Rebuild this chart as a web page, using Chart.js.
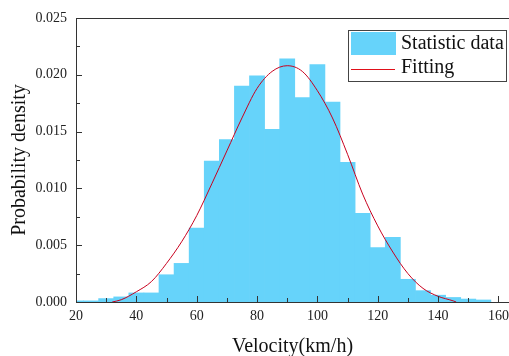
<!DOCTYPE html>
<html>
<head>
<meta charset="utf-8">
<script src="https://cdn.jsdelivr.net/npm/chart.js@4.4.1/dist/chart.umd.min.js"></script>
<style>
  html, body { margin: 0; padding: 0; background: #fff; }
  #wrap { width: 509px; height: 356px; }
</style>
</head>
<body>
<div id="wrap"><canvas id="velocityChart" width="509" height="356"></canvas></div>
<script>
// histogram bins (centre of each 5 km/h bin) and their density
const binCenters = [20, 25, 30, 35, 40, 45, 50, 55, 60, 65, 70, 75, 80, 85, 90, 95, 100, 105, 110, 115, 120, 125, 130, 135, 140, 145, 150, 155];
const binDensity = [0.0001, 0.0001, 0.0003, 0.00045, 0.0008, 0.0008, 0.0024, 0.0034, 0.0065, 0.0124, 0.0143, 0.0190, 0.0199, 0.0152, 0.0214, 0.0180, 0.0209, 0.0176, 0.0123, 0.0078, 0.0048, 0.0057, 0.0020, 0.0010, 0.0006, 0.0004, 0.00026, 0.00018];

// fitted curve
const fitVelocity = [32, 35, 40, 45, 50, 55, 60, 65, 70, 75, 80, 85, 90, 95, 100, 105, 110, 115, 120, 125, 130, 135, 140, 145, 146];
const fitDensity = [0, 0.0002, 0.0009, 0.0018, 0.0034, 0.0053, 0.0076, 0.0104, 0.0133, 0.0162, 0.0188, 0.0203, 0.0208, 0.0203, 0.0186, 0.0162, 0.0130, 0.0095, 0.0067, 0.0044, 0.0025, 0.0012, 0.0005, 0.0001, 0];

const xTickValues = [20, 30, 40, 50, 60, 70, 80, 90, 100, 110, 120, 130, 140, 150, 160];
const xLabelValues = [20, 40, 60, 80, 100, 120, 140, 160];
const yTickValues = [0, 0.0025, 0.005, 0.0075, 0.01, 0.0125, 0.015, 0.0175, 0.02, 0.0225, 0.025];
const yLabelValues = [0, 0.005, 0.01, 0.015, 0.02, 0.025];

const barColor = '#66d3fa';
const fitColor = '#c8001e';
const serif = "'Liberation Serif', 'Times New Roman', serif";
const axisColor = '#333';

const isIn = (list, v) => list.some(l => Math.abs(l - v) < 1e-9);

// inward tick marks + top frame line
const frameTicks = {
  id: 'frameTicks',
  afterDatasetsDraw(chart) {
    const { ctx, chartArea: a, scales: { x, y } } = chart;
    ctx.save();
    ctx.strokeStyle = axisColor;
    ctx.lineWidth = 1;
    ctx.beginPath();
    ctx.moveTo(a.left, Math.round(a.top) + 0.5);
    ctx.lineTo(a.right, Math.round(a.top) + 0.5);
    x.ticks.forEach(t => {
      const px = Math.round(x.getPixelForValue(t.value)) + 0.5;
      const len = t.label ? 6 : 4;
      ctx.moveTo(px, a.bottom);
      ctx.lineTo(px, a.bottom - len);
    });
    y.ticks.forEach(t => {
      const py = Math.round(y.getPixelForValue(t.value)) + 0.5;
      const len = t.label ? 6 : 4;
      ctx.moveTo(a.left, py);
      ctx.lineTo(a.left + len, py);
    });
    ctx.stroke();
    ctx.restore();
  }
};

// boxed legend in the upper right corner
const boxLegend = {
  id: 'boxLegend',
  afterDraw(chart) {
    const ctx = chart.ctx;
    const bars = chart.data.datasets[1];
    const fit = chart.data.datasets[0];
    ctx.save();
    ctx.fillStyle = '#fff';
    ctx.fillRect(348, 30, 159, 52);
    ctx.strokeStyle = '#444';
    ctx.lineWidth = 1;
    ctx.strokeRect(348.5, 30.5, 158, 51);
    ctx.fillStyle = bars.backgroundColor;
    ctx.fillRect(351, 32, 45, 23);
    ctx.strokeStyle = '#e0101a';
    ctx.beginPath();
    ctx.moveTo(351, 69.5);
    ctx.lineTo(395, 69.5);
    ctx.stroke();
    ctx.fillStyle = '#111';
    ctx.font = '20px ' + serif;
    ctx.textBaseline = 'middle';
    ctx.fillText(bars.label, 401, 44);
    ctx.fillText(fit.label, 401, 68);
    ctx.restore();
  }
};

const ctx = document.getElementById('velocityChart').getContext('2d');
new Chart(ctx, {
  type: 'bar',
  data: {
    datasets: [
      {
        type: 'line',
        label: 'Fitting',
        data: fitVelocity.map((v, i) => ({ x: v, y: fitDensity[i] })),
        borderColor: fitColor,
        borderWidth: 1,
        pointRadius: 0,
        fill: false,
        cubicInterpolationMode: 'monotone',
        order: 1
      },
      {
        type: 'bar',
        label: 'Statistic data',
        data: binCenters.map((v, i) => ({ x: v, y: binDensity[i] })),
        backgroundColor: barColor,
        borderWidth: 0,
        barPercentage: 1,
        categoryPercentage: 1,
        order: 2
      }
    ]
  },
  options: {
    responsive: false,
    animation: false,
    devicePixelRatio: 1,
    layout: { padding: { top: 18, right: 0, bottom: 0, left: 0 } },
    plugins: { legend: { display: false }, tooltip: { enabled: false } },
    scales: {
      x: {
        type: 'linear',
        min: 20,
        max: 163.5,
        offset: false,
        grid: { display: false, drawTicks: false, offset: false },
        border: { display: true, color: axisColor, width: 1 },
        afterBuildTicks: s => { s.ticks = xTickValues.map(v => ({ value: v })); },
        afterFit: s => { s.height = 54; s.paddingLeft = 0; s.paddingRight = 0; },
        ticks: {
          includeBounds: false,
          autoSkip: false,
          maxRotation: 0,
          padding: 6,
          color: '#222',
          font: { family: serif, size: 14 },
          callback: v => isIn(xLabelValues, v) ? String(v) : ''
        },
        title: {
          display: true,
          text: 'Velocity(km/h)',
          color: '#111',
          font: { family: serif, size: 20, lineHeight: 1 },
          padding: { top: 0, bottom: -1 }
        }
      },
      y: {
        min: 0,
        max: 0.025,
        grid: { display: false, drawTicks: false },
        border: { display: true, color: axisColor, width: 1 },
        afterBuildTicks: s => { s.ticks = yTickValues.map(v => ({ value: v })); },
        afterFit: s => { s.width = 76; s.paddingTop = 0; s.paddingBottom = 0; },
        ticks: {
          autoSkip: false,
          padding: 9,
          color: '#222',
          font: { family: serif, size: 14 },
          callback: v => isIn(yLabelValues, v) ? v.toFixed(3) : ''
        },
        title: {
          display: true,
          text: 'Probability density',
          color: '#111',
          font: { family: serif, size: 20, lineHeight: 1 },
          padding: { top: 10, bottom: 0 }
        }
      }
    }
  },
  plugins: [frameTicks, boxLegend]
});
</script>
</body>
</html>
